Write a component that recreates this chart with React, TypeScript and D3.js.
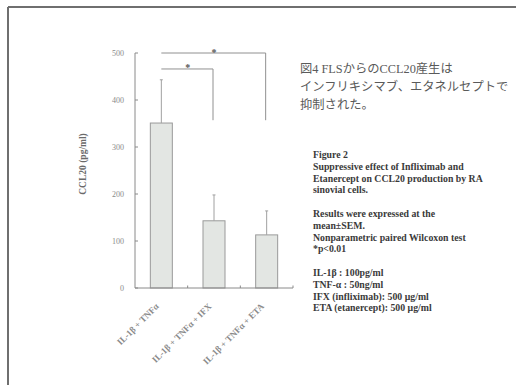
import React from "react";
import * as d3 from "d3";

const categories = ["IL-1β + TNFα", "IL-1β + TNFα + IFX", "IL-1β + TNFα + ETA"];
const means = [351, 143, 113];
const sems = [92, 55, 51];
const yTicks = [0, 100, 200, 300, 400, 500];
const brackets = [
  { from: 0, to: 2, level: 500, drop: 357 },
  { from: 0, to: 1, level: 466, drop: 357 },
];
const titleLines = ["図4 FLSからのCCL20産生は", "インフリキシマブ、エタネルセプトで", "抑制された。"];
const legendLines = [
  "Figure 2",
  "Suppressive effect of Infliximab and",
  "Etanercept on CCL20 production by RA",
  "sinovial cells.",
  "",
  "Results were expressed at the",
  "mean±SEM.",
  "Nonparametric paired Wilcoxon test",
  "*p<0.01",
  "",
  "IL-1β : 100pg/ml",
  "TNF-α : 50ng/ml",
  "IFX (infliximab):  500 μg/ml",
  "ETA  (etanercept): 500 μg/ml",
];

export default function App() {
  const W = 516, H = 385;
  const x = d3.scaleBand<string>().domain(categories).range([135, 293]).padding(0);
  const y = d3.scaleLinear().domain([0, 500]).range([288, 53]);
  const cx = (i: number) => (x(categories[i]) as number) + x.bandwidth() / 2;
  const barW = 22;
  const axisColor = "#8a8a8a";
  const serif = "'Liberation Serif', 'DejaVu Serif', serif";

  return (
    <svg width={W} height={H} style={{ position: "absolute", left: 0, top: 0, background: "#fff" }}>
      <rect x={0} y={0} width={W} height={H} fill="#fff" />
      <line x1={8} y1={7} x2={W} y2={7} stroke="#6f6f6f" strokeWidth={2} />
      <line x1={8} y1={7} x2={8} y2={H} stroke="#6f6f6f" strokeWidth={2} />

      {means.map((m, i) => (
        <rect key={"b" + i} x={cx(i) - barW / 2} y={y(m)} width={barW} height={y(0) - y(m)}
          fill="#e3e6e3" stroke="#9a9a9a" strokeWidth={1} />
      ))}
      {means.map((m, i) => (
        <g key={"e" + i} stroke="#a0a0a0" strokeWidth={1}>
          <line x1={cx(i)} x2={cx(i)} y1={y(m)} y2={y(m + sems[i])} />
          <line x1={cx(i) - 1.5} x2={cx(i) + 1.5} y1={y(m + sems[i])} y2={y(m + sems[i])} />
        </g>
      ))}

      <line x1={135} x2={135} y1={y(500)} y2={y(0)} stroke={axisColor} strokeWidth={1} />
      {yTicks.map((t) => (
        <g key={"t" + t}>
          <line x1={135} x2={138} y1={y(t)} y2={y(t)} stroke={axisColor} />
          <text x={124} y={y(t)} dy="0.35em" textAnchor="end" fontFamily={serif} fontSize={8} fill="#8a8a8a">{t}</text>
        </g>
      ))}
      <line x1={135} x2={293} y1={y(0)} y2={y(0)} stroke={axisColor} strokeWidth={1} />
      {categories.map((c, i) => (
        <line key={"xt" + i} x1={(x(c) as number) + x.bandwidth()} x2={(x(c) as number) + x.bandwidth()}
          y1={y(0)} y2={y(0) - 2.5} stroke={axisColor} />
      ))}
      {categories.map((c, i) => (
        <text key={"xl" + i} transform={`translate(${cx(i) - 2},${y(0) + 19}) rotate(-45)`}
          textAnchor="end" fontFamily={serif} fontSize={9} fontWeight="bold" fill="#8a8a8a">{c}</text>
      ))}

      <text transform={`translate(86,164) rotate(-90)`} textAnchor="middle"
        fontFamily={serif} fontSize={9.5} fontWeight="bold" fill="#6a6a6a">CCL20  (pg/ml)</text>

      {brackets.map((b, k) => (
        <g key={"br" + k}>
          <path d={`M${cx(b.from)},${y(b.level)}H${cx(b.to) - 1}V${y(b.drop)}`} fill="none" stroke="#909090" strokeWidth={1} />
          <text x={(cx(b.from) + cx(b.to)) / 2} y={y(b.level) + 2.5} textAnchor="middle"
            fontFamily={serif} fontSize={10} fontWeight="bold" fill="#555">*</text>
        </g>
      ))}

      {titleLines.map((l, i) => (
        <text key={"jt" + i} x={300} y={73 + i * 18} fontFamily="'Liberation Serif', 'Noto Sans CJK JP', serif"
          fontSize={12.3} fill="#5a5a5a">{l}</text>
      ))}

      {legendLines.map((l, i) => (
        <text key={"lg" + i} x={313} y={158 + i * 11.8} fontFamily={serif} fontSize={9.8}
          fontWeight="bold" fill="#3a3a3a">{l}</text>
      ))}
    </svg>
  );
}
